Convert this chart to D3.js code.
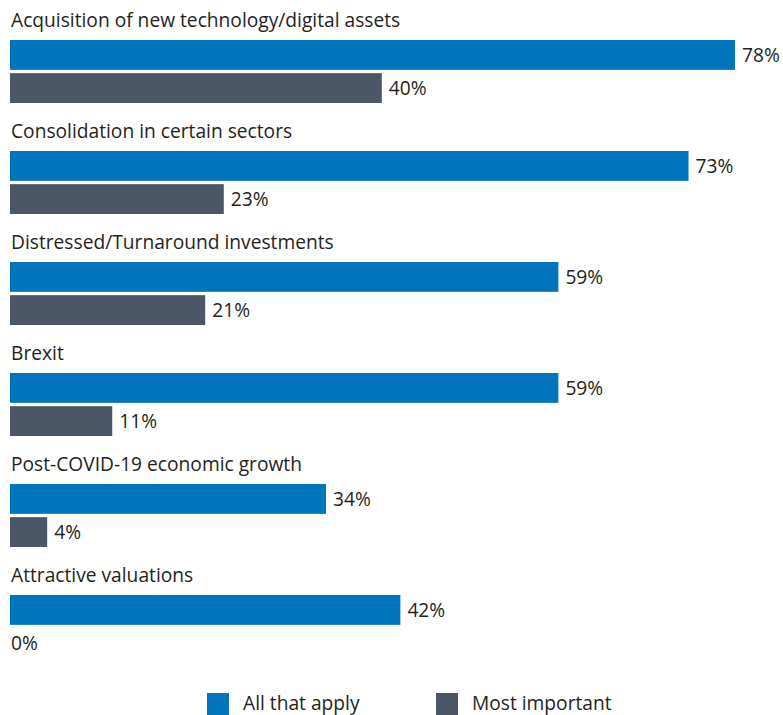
<!DOCTYPE html>
<html>
<head>
<meta charset="utf-8">
<script src="https://cdn.jsdelivr.net/npm/d3@7"></script>
<style>
  html, body { margin: 0; padding: 0; background: #fff; }
  svg text { font-family: "Open Sans", "Noto Sans", sans-serif; fill: #231f20; }
</style>
</head>
<body>
<svg id="chart" width="783" height="715"></svg>
<script>
// Survey drivers: share of respondents, all that apply vs. most important
const categories = [
  "Acquisition of new technology/digital assets",
  "Consolidation in certain sectors",
  "Distressed/Turnaround investments",
  "Brexit",
  "Post-COVID-19 economic growth",
  "Attractive valuations"
];
const seriesNames = ["All that apply", "Most important"];
const allThatApply = [78, 73, 59, 59, 34, 42];
const mostImportant = [40, 23, 21, 11, 4, 0];
const colors = ["#0074bd", "#4b5667"];

const svg = d3.select("#chart");
const left = 10;
const fontSize = 19.2;

const x = d3.scaleLinear().domain([0, 78]).range([left, 735]);

const groupY = d3.scaleBand()
  .domain(categories)
  .range([40, 40 + 111 * categories.length])
  .paddingInner(0)
  .paddingOuter(0);

const barY = d3.scaleBand()
  .domain(seriesNames)
  .range([0, 63])
  .paddingInner(0.1)
  .paddingOuter(0);

const rows = categories.map((c, i) => ({
  cat: c,
  values: [allThatApply[i], mostImportant[i]]
}));

const g = svg.selectAll("g.group")
  .data(rows)
  .join("g")
  .attr("class", "group")
  .attr("transform", d => `translate(0,${groupY(d.cat)})`);

g.append("text")
  .attr("x", left + 1)
  .attr("y", -13)
  .attr("font-size", fontSize)
  .text(d => d.cat);

const bars = g.selectAll("g.bar")
  .data(d => d.values.map((v, j) => ({ name: seriesNames[j], v, j })))
  .join("g")
  .attr("class", "bar");

bars.append("rect")
  .attr("x", x(0))
  .attr("y", d => barY(d.name))
  .attr("width", d => x(d.v) - x(0))
  .attr("height", barY.bandwidth())
  .attr("fill", d => colors[d.j]);

bars.append("text")
  .attr("x", d => d.v === 0 ? left + 1 : x(d.v) + 7)
  .attr("y", d => barY(d.name) + barY.bandwidth() / 2)
  .attr("dy", "0.35em")
  .attr("font-size", fontSize)
  .text(d => d.v + "%");

// Legend
const legendX = [207, 436];
const legend = svg.selectAll("g.legend")
  .data(seriesNames)
  .join("g")
  .attr("class", "legend")
  .attr("transform", (d, i) => `translate(${legendX[i]},693)`);

legend.append("rect")
  .attr("width", 22)
  .attr("height", 22)
  .attr("fill", (d, i) => colors[i]);

legend.append("text")
  .attr("x", 36)
  .attr("y", 17)
  .attr("font-size", fontSize)
  .text(d => d);
</script>
</body>
</html>
